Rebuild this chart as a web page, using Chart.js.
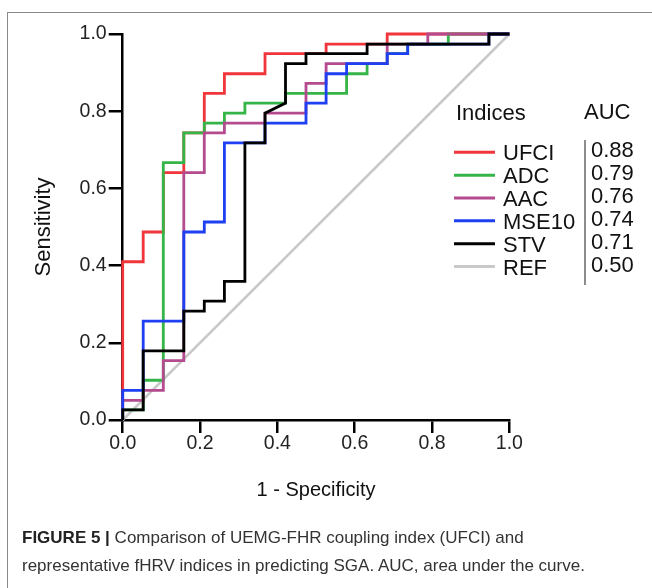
<!DOCTYPE html>
<html><head><meta charset="utf-8">
<script src="https://cdn.jsdelivr.net/npm/chart.js@4"></script>
<style>
html,body{margin:0;padding:0;background:#fff;}
body{width:652px;height:588px;position:relative;overflow:hidden;font-family:"Liberation Sans",Arial,sans-serif;}
#frame{position:absolute;left:7px;top:12px;width:700px;height:700px;border:1.5px solid #8a8a8a;box-sizing:border-box;}
#wrap{position:absolute;left:0;top:0;width:652px;height:588px;}
#caption{position:absolute;left:22px;top:524px;font-size:17px;line-height:28px;color:#333;white-space:nowrap;}
#caption b{color:#222;}
</style></head><body>
<div id="frame"></div>
<div id="wrap"><canvas id="c" width="652" height="588"></canvas></div>
<div id="caption"><b>FIGURE 5 |</b> Comparison of UEMG-FHR coupling index (UFCI) and<br>representative fHRV indices in predicting SGA. AUC, area under the curve.</div>
<script>
// ---- data ----
const seriesNames = ['UFCI','ADC','AAC','MSE10','STV','REF'];
const aucValues = [0.88,0.79,0.76,0.74,0.71,0.50];
const seriesColors = ['#f0353b','#35b548','#b34b8e','#1e3ff2','#000000','#c9c9c9'];

const ufciFpr = [0,0,0.053,0.053,0.105,0.105,0.158,0.158,0.211,0.211,0.263,0.263,0.368,0.368,0.526,0.526,0.684,0.684,1];
const ufciTpr = [0,0.410,0.410,0.487,0.487,0.641,0.641,0.744,0.744,0.846,0.846,0.897,0.897,0.949,0.949,0.974,0.974,1,1];

const adcFpr = [0,0,0.053,0.053,0.105,0.105,0.158,0.158,0.211,0.211,0.263,0.263,0.316,0.316,0.421,0.421,0.579,0.579,0.632,0.632,0.684,0.684,0.737,0.737,0.842,0.842,1];
const adcTpr = [0,0.026,0.026,0.103,0.103,0.667,0.667,0.744,0.744,0.769,0.769,0.795,0.795,0.821,0.821,0.846,0.846,0.897,0.897,0.923,0.923,0.949,0.949,0.974,0.974,1,1];

const aacFpr = [0,0,0.053,0.053,0.105,0.105,0.158,0.158,0.211,0.211,0.263,0.263,0.368,0.368,0.474,0.474,0.526,0.526,0.684,0.684,0.789,0.789,1];
const aacTpr = [0,0.051,0.051,0.077,0.077,0.154,0.154,0.641,0.641,0.744,0.744,0.769,0.769,0.795,0.795,0.872,0.872,0.923,0.923,0.974,0.974,1,1];

const mse10Fpr = [0,0,0.053,0.053,0.158,0.158,0.211,0.211,0.263,0.263,0.368,0.368,0.474,0.474,0.526,0.526,0.579,0.579,0.684,0.684,0.737,0.737,0.947,0.947,1];
const mse10Tpr = [0,0.077,0.077,0.256,0.256,0.487,0.487,0.513,0.513,0.718,0.718,0.769,0.769,0.821,0.821,0.897,0.897,0.923,0.923,0.949,0.949,0.974,0.974,1,1];

const stvFpr = [0,0,0.053,0.053,0.158,0.158,0.211,0.211,0.263,0.263,0.316,0.316,0.368,0.368,0.421,0.421,0.474,0.474,0.632,0.632,0.947,0.947,1];
const stvTpr = [0,0.026,0.026,0.179,0.179,0.282,0.282,0.308,0.308,0.359,0.359,0.718,0.718,0.795,0.821,0.923,0.923,0.949,0.949,0.974,0.974,1,1];

const refFpr = [0,1];
const refTpr = [0,1];

const xTickValues = [0,0.2,0.4,0.6,0.8,1.0];
const yTickValues = [0,0.2,0.4,0.6,0.8,1.0];
const xTitle = '1 - Specificity';
const yTitle = 'Sensitivity';

// ---- build ----
const FONT = '"Liberation Sans", Arial, sans-serif';
const pairs = (xs, ys) => xs.map((x, i) => ({x, y: ys[i]}));
const curves = [
  [ufciFpr, ufciTpr], [adcFpr, adcTpr], [aacFpr, aacTpr],
  [mse10Fpr, mse10Tpr], [stvFpr, stvTpr], [refFpr, refTpr]
];
const drawOrder = [4, 3, 2, 1, 0, 5];

const datasets = curves.map((c, i) => ({
  label: seriesNames[i],
  data: pairs(c[0], c[1]),
  borderColor: seriesColors[i],
  backgroundColor: seriesColors[i],
  borderWidth: i === 5 ? 2.5 : 2.8,
  showLine: true,
  pointRadius: 0,
  fill: false,
  tension: 0,
  clip: false,
  order: drawOrder[i],
  borderJoinStyle: 'miter',
  borderCapStyle: 'butt'
}));

const legendPlugin = {
  id: 'rocLegend',
  afterDraw(chart) {
    const ctx = chart.ctx;
    ctx.save();
    ctx.fillStyle = '#111';
    ctx.font = '22px ' + FONT;
    ctx.textBaseline = 'middle';
    ctx.textAlign = 'left';
    ctx.fillText('Indices', 456, 114);
    ctx.fillText('AUC', 584, 113);
    seriesNames.forEach((n, i) => {
      const y = 152.3 + i * 22.85;
      ctx.strokeStyle = seriesColors[i];
      ctx.lineWidth = 3;
      ctx.beginPath(); ctx.moveTo(454, y); ctx.lineTo(495, y); ctx.stroke();
      ctx.fillText(n, 503, y + 2);
      ctx.fillText(aucValues[i].toFixed(2), 591, y - 1);
    });
    ctx.strokeStyle = '#666';
    ctx.lineWidth = 1.5;
    ctx.beginPath(); ctx.moveTo(585, 140); ctx.lineTo(585, 285); ctx.stroke();
    ctx.restore();
  }
};

new Chart(document.getElementById('c'), {
  type: 'scatter',
  data: { datasets },
  options: {
    responsive: false,
    animation: false,
    devicePixelRatio: 1,
    layout: { padding: { left: 0, right: 142.6, top: 34, bottom: 86 } },
    plugins: { legend: { display: false }, tooltip: { enabled: false } },
    scales: {
      x: {
        type: 'linear', min: 0, max: 1,
        afterFit(s) { s.height = 82; },
        afterBuildTicks(s) { s.ticks = xTickValues.map(v => ({value: v})); },
        grid: { display: true, drawOnChartArea: false, drawTicks: true, tickLength: 13, color: '#000', lineWidth: 2.5 },
        border: { display: true, color: '#000', width: 2.5 },
        ticks: { padding: 1, color: '#222', font: { family: FONT, size: 19.5, lineHeight: 1 }, callback: v => Number(v).toFixed(1), maxRotation: 0 },
        title: { display: true, text: xTitle, color: '#111', font: { family: FONT, size: 20 }, padding: { top: 0, bottom: 0 } }
      },
      y: {
        type: 'linear', min: 0, max: 1,
        afterFit(s) { s.width = 122.7; },
        afterBuildTicks(s) { s.ticks = yTickValues.map(v => ({value: v})); },
        grid: { display: true, drawOnChartArea: false, drawTicks: true, tickLength: 14, color: '#000', lineWidth: 2.5 },
        border: { display: true, color: '#000', width: 2.5 },
        ticks: { padding: 2, color: '#222', font: { family: FONT, size: 19.5 }, callback: v => Number(v).toFixed(1) },
        title: { display: true, text: yTitle, color: '#111', font: { family: FONT, size: 22 }, padding: { top: 31, bottom: 0 } }
      }
    }
  },
  plugins: [legendPlugin]
});
</script>
</body></html>
